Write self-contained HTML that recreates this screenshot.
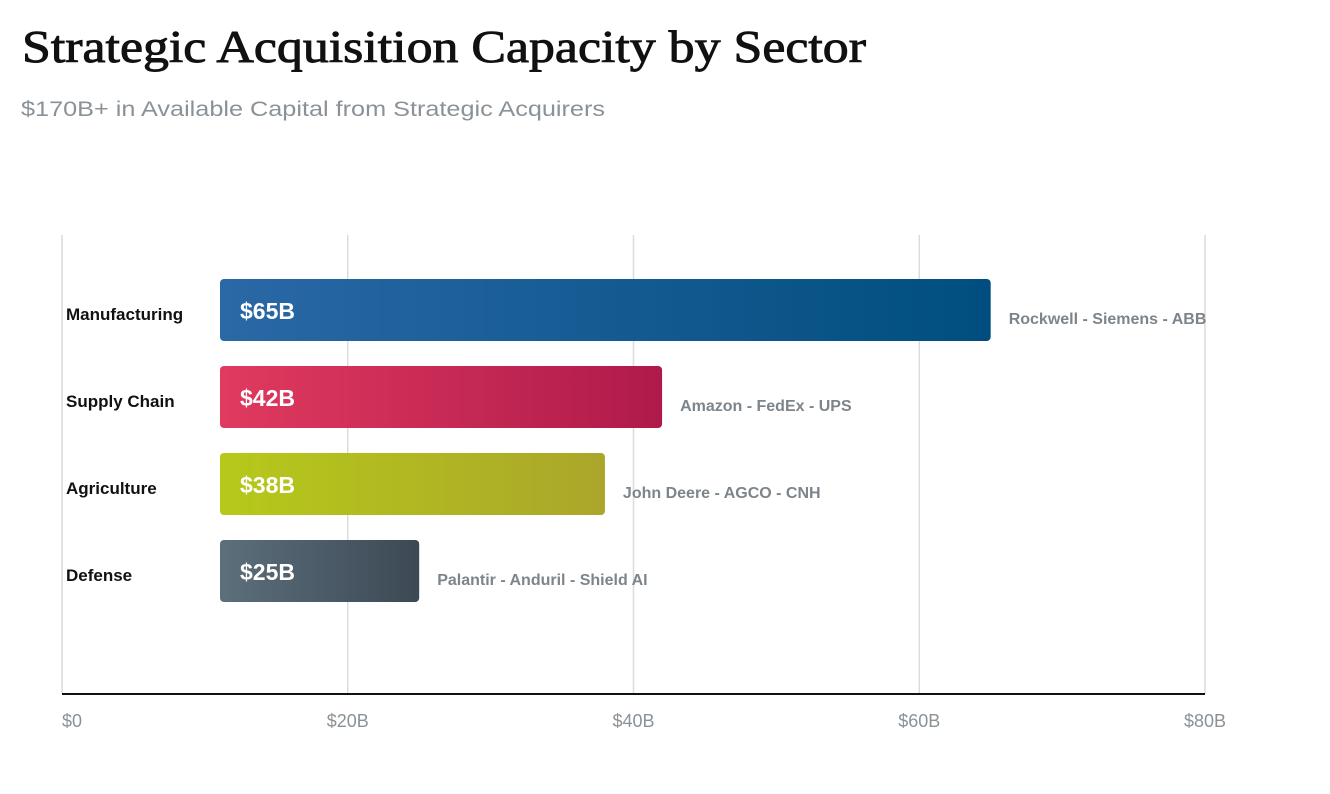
<!DOCTYPE html>
<html><head><meta charset="utf-8"><style>
html,body{margin:0;padding:0;background:#fff;}
svg{display:block;}
</style></head><body>
<svg id="chart" width="1330" height="794" viewBox="0 0 1330 794" xmlns="http://www.w3.org/2000/svg">
<defs>
<linearGradient id="g0" x1="0" x2="1"><stop offset="0" stop-color="#2a68a6"/><stop offset="1" stop-color="#004e7f"/></linearGradient>
<linearGradient id="g1" x1="0" x2="1"><stop offset="0" stop-color="#e03a5f"/><stop offset="1" stop-color="#af1a4b"/></linearGradient>
<linearGradient id="g2" x1="0" x2="1"><stop offset="0" stop-color="#b6c91a"/><stop offset="1" stop-color="#aba62a"/></linearGradient>
<linearGradient id="g3" x1="0" x2="1"><stop offset="0" stop-color="#5c6f7b"/><stop offset="1" stop-color="#3c4955"/></linearGradient>
</defs>
<text x="22" y="62" font-family="Liberation Serif, serif" font-size="45" fill="#111" stroke="#111" stroke-width="0.9" textLength="844" lengthAdjust="spacingAndGlyphs">Strategic Acquisition Capacity by Sector</text>
<text x="21" y="116" font-family="Liberation Sans, sans-serif" font-size="21" fill="#8a9298" textLength="584" lengthAdjust="spacingAndGlyphs">$170B+ in Available Capital from Strategic Acquirers</text>
<g id="grid"></g><g id="bars"></g><g id="ticks"></g>
</svg>
<script>
const categories = ["Manufacturing","Supply Chain","Agriculture","Defense"];
const values = [65,42,38,25];
const valueLabels = ["$65B","$42B","$38B","$25B"];
const acquirers = ["Rockwell - Siemens - ABB","Amazon - FedEx - UPS","John Deere - AGCO - CNH","Palantir - Anduril - Shield AI"];
const tickValues = [0,20,40,60,80];
const tickLabels = ["$0","$20B","$40B","$60B","$80B"];

const NS="http://www.w3.org/2000/svg";
const x0=62,x1=1205,vmax=80;
const xs=v=>x0+(v/vmax)*(x1-x0);
const barStart=220, yTop=279, step=87, bh=62;
function mk(t,a,p){const e=document.createElementNS(NS,t);for(const k in a)e.setAttribute(k,a[k]);p.appendChild(e);return e;}
const grid=document.getElementById('grid'),bars=document.getElementById('bars'),ticks=document.getElementById('ticks');
tickValues.forEach((v,i)=>{
  const l=mk('line',{x1:xs(v),x2:xs(v),y1:235,y2:694,stroke:'#dcdcdc','stroke-width':1.5},grid);
  
  
  const t=mk('text',{x:i==0?62:xs(v),y:727,'text-anchor':i==0?'start':'middle','font-family':'Liberation Sans, sans-serif','font-size':18,fill:'#8a9298'},ticks);
  t.textContent=tickLabels[i];
  
  
});
const ax=mk('line',{x1:x0,x2:x1,y1:694,y2:694,stroke:'#111','stroke-width':2},ticks);


categories.forEach((c,i)=>{
  const y=yTop+i*step;
  const r=mk('rect',{x:barStart,y:y,width:Math.max(0,xs(values[i])-barStart),height:bh,rx:4,fill:'url(#g'+i+')'},bars);
  
  
  const cl=mk('text',{x:66,y:y+bh/2+10,'font-family':'Liberation Sans, sans-serif','font-size':17,'font-weight':'bold',fill:'#111'},bars);
  cl.textContent=c;
  
  
  const vl=mk('text',{x:240,y:y+bh/2+9,'font-family':'Liberation Sans, sans-serif','font-size':23,'font-weight':'bold',fill:'#fff'},bars);
  vl.textContent=valueLabels[i];
  
  
  const al=mk('text',{x:xs(values[i])+18,y:y+bh/2+14,'font-family':'Liberation Sans, sans-serif','font-size':16,'font-weight':'bold',fill:'#7d858c'},bars);
  al.textContent=acquirers[i];
  
  
});
</script>
</body></html>
